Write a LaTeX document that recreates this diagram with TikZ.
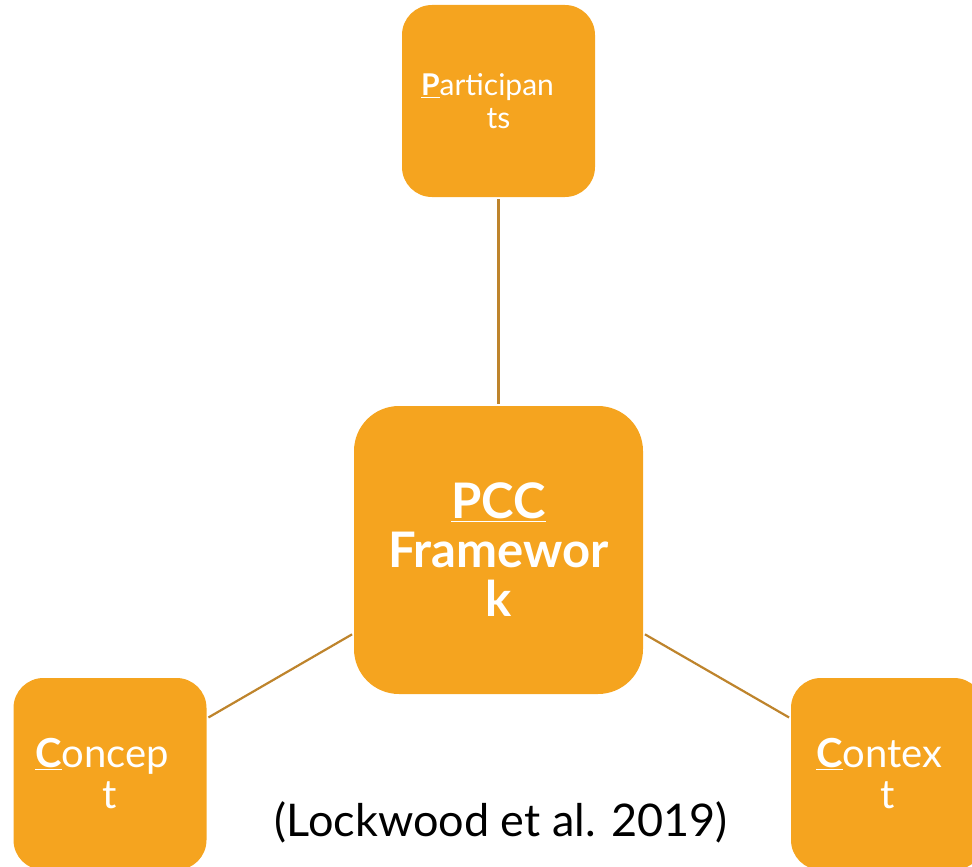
\documentclass[tikz,border=0pt]{standalone}
\usepackage{fontspec}
\setmainfont{Lato}
\definecolor{boxorange}{RGB}{245,164,31}
\definecolor{linkbrown}{RGB}{190,132,44}
\begin{document}
\begin{tikzpicture}[x=1pt,y=-1pt,
  smallbox/.style={rectangle, rounded corners=30pt, fill=boxorange, draw=none,
    minimum width=193pt, minimum height=192pt, inner sep=0pt, text=white,
    align=center},
  bigbox/.style={rectangle, rounded corners=45pt, fill=boxorange, draw=none,
    minimum width=289pt, minimum height=288pt, inner sep=0pt, text=white,
    align=center, font=\fontsize{49}{49}\selectfont\bfseries},
  link/.style={draw=linkbrown, line width=2.2pt, shorten >=2pt, shorten <=2pt}]
\useasboundingbox (0,0) rectangle (972,867);
\clip (0,0) rectangle (972,867);
\node[smallbox, font=\fontsize{30}{33}\selectfont] (part) at (498.5,101) {\underline{\textbf{P}}articipan\hspace*{22pt}\\ts};
\node[bigbox] (pcc) at (498.5,550) {\underline{PCC}\\Framewor\\k};
\node[smallbox, font=\fontsize{40}{41}\selectfont] (concept) at (110,774) {\underline{\textbf{C}}oncep\hspace*{16pt}\\t};
\node[smallbox, font=\fontsize{40}{41}\selectfont] (context) at (887.5,774) {\underline{\textbf{C}}ontex\hspace*{16pt}\\t};
\draw[link] (part) -- (pcc);
\draw[link] (pcc) -- (concept);
\draw[link] (pcc) -- (context);
\node[font=\fontsize{45}{50}\selectfont, text=black] (cite) at (501,822) {(Lockwood et al. 2019)};
\end{tikzpicture}
\end{document}
